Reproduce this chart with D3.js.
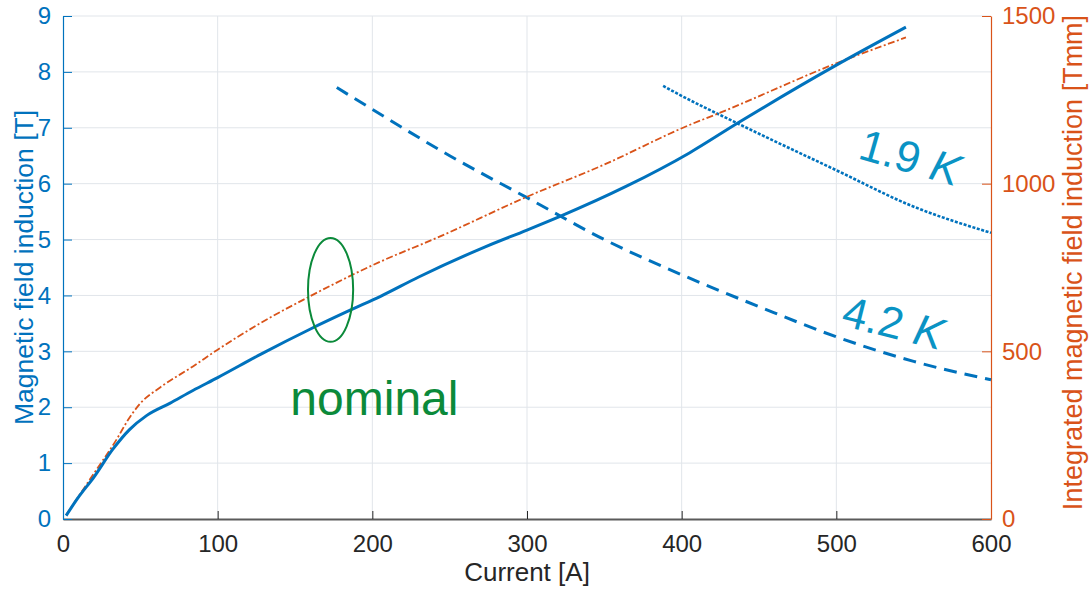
<!DOCTYPE html>
<html>
<head>
<meta charset="utf-8">
<script src="https://cdn.jsdelivr.net/npm/d3@7.9.0/dist/d3.min.js"></script>
<style>
  body { margin: 0; background: #fff; }
  svg { display: block; font-family: "Liberation Sans", Arial, Helvetica, sans-serif; }
</style>
</head>
<body>
<svg id="chart" width="1089" height="590"></svg>
<script>
// DATA
const nominalI = [2, 10, 20, 32, 43, 54, 69, 84, 100, 128, 160, 186, 205, 230, 273, 300, 321, 364, 405, 436, 500, 545];
const nominalB = [0.06, 0.39, 0.75, 1.24, 1.6, 1.85, 2.07, 2.3, 2.53, 2.95, 3.4, 3.74, 3.98, 4.33, 4.87, 5.17, 5.41, 5.95, 6.55, 7.08, 8.12, 8.8];

const integratedI = [2, 20, 35, 42, 50, 63, 84, 100, 128, 160, 205, 241, 300, 349, 405, 424, 500, 545];
const integratedT = [12, 136, 240, 295, 345, 393, 455, 505, 585, 665, 767, 837, 961, 1055, 1175, 1210, 1359, 1436];

const limit42I = [177, 200, 250, 300, 350, 400, 450, 500, 550, 600];
const limit42B = [7.72, 7.33, 6.5, 5.75, 5.0, 4.37, 3.8, 3.26, 2.82, 2.49];

const limit19I = [388, 398, 436, 500, 549, 600];
const limit19B = [7.75, 7.6, 7.08, 6.24, 5.6, 5.12];

const xTicks = [0, 100, 200, 300, 400, 500, 600];
const yLeftTicks = [0, 1, 2, 3, 4, 5, 6, 7, 8, 9];
const yRightTicks = [0, 500, 1000, 1500];

const blue = '#0072BD';
const orange = '#D95319';
const green = '#0b8a3a';
const labelBlue = '#0a93c4';

// SCALES
const svg = d3.select('#chart');

const x = d3.scaleLinear().domain([0, 600]).range([63, 991]);
const yL = d3.scaleLinear().domain([0, 9]).range([519, 16]);
const yR = d3.scaleLinear().domain([0, 1500]).range([519, 16]);

// GRID
const grid = svg.append('g').attr('stroke', '#e1e5ea').attr('stroke-width', 1);
grid.selectAll('.gx').data(xTicks.slice(1, -1)).join('line')
  .attr('x1', d => x(d)).attr('x2', d => x(d))
  .attr('y1', yL(0)).attr('y2', yL(9));
grid.selectAll('.gy').data(yLeftTicks.slice(1)).join('line')
  .attr('x1', x(0)).attr('x2', x(600))
  .attr('y1', d => yL(d)).attr('y2', d => yL(d));

// AXES
const fontTick = '24px';

const gx = svg.append('g')
  .attr('transform', `translate(0,${yL(0)})`)
  .call(d3.axisBottom(x).tickValues(xTicks).tickSizeInner(-8).tickSizeOuter(0).tickPadding(16));
gx.select('.domain').attr('stroke', '#5a5a5a').attr('stroke-width', 2);
gx.selectAll('.tick line').attr('stroke', '#262626');
gx.selectAll('.tick text').attr('fill', '#262626').style('font-size', fontTick);

const gl = svg.append('g')
  .attr('transform', `translate(${x(0)},0)`)
  .call(d3.axisLeft(yL).tickValues(yLeftTicks).tickSizeInner(-9).tickSizeOuter(0).tickPadding(12));
gl.select('.domain').attr('stroke', blue).attr('stroke-width', 1.2);
gl.selectAll('.tick line').attr('stroke', blue);
gl.selectAll('.tick text').attr('fill', blue).style('font-size', fontTick);

const gr = svg.append('g')
  .attr('transform', `translate(${x(600)},0)`)
  .call(d3.axisRight(yR).tickValues(yRightTicks).tickFormat(d3.format('d'))
    .tickSizeInner(-9).tickSizeOuter(0).tickPadding(11));
gr.select('.domain').attr('stroke', orange).attr('stroke-width', 1.2);
gr.selectAll('.tick line').attr('stroke', orange);
gr.selectAll('.tick text').attr('fill', orange).style('font-size', fontTick);

// AXIS TITLES
svg.append('text')
  .attr('x', x(300)).attr('y', 581)
  .attr('text-anchor', 'middle')
  .attr('fill', '#262626')
  .style('font-size', '26px')
  .text('Current [A]');

svg.append('text')
  .attr('transform', `translate(33,${(yL(0) + yL(9)) / 2}) rotate(-90)`)
  .attr('text-anchor', 'middle')
  .attr('fill', blue)
  .style('font-size', '26.5px')
  .text('Magnetic field induction [T]');

svg.append('text')
  .attr('transform', `translate(1082,${(yL(0) + yL(9)) / 2 - 5}) rotate(-90)`)
  .attr('text-anchor', 'middle')
  .attr('fill', orange)
  .style('font-size', '27px')
  .text('Integrated magnetic field induction [Tmm]');

// LINES
const lineL = d3.line().x(d => x(d[0])).y(d => yL(d[1])).curve(d3.curveMonotoneX);
const lineR = d3.line().x(d => x(d[0])).y(d => yR(d[1])).curve(d3.curveMonotoneX);

svg.append('path')
  .datum(d3.zip(limit42I, limit42B))
  .attr('d', lineL)
  .attr('fill', 'none')
  .attr('stroke', blue)
  .attr('stroke-width', 3)
  .attr('stroke-dasharray', '13,8');

svg.append('path')
  .datum(d3.zip(limit19I, limit19B))
  .attr('d', lineL)
  .attr('fill', 'none')
  .attr('stroke', blue)
  .attr('stroke-width', 2.6)
  .attr('stroke-dasharray', '3,1.6');

svg.append('path')
  .datum(d3.zip(integratedI, integratedT))
  .attr('d', lineR)
  .attr('fill', 'none')
  .attr('stroke', orange)
  .attr('stroke-width', 1.8)
  .attr('stroke-dasharray', '7,2.5,2,2.5');

svg.append('path')
  .datum(d3.zip(nominalI, nominalB))
  .attr('d', lineL)
  .attr('fill', 'none')
  .attr('stroke', blue)
  .attr('stroke-width', 3);

// ANNOTATIONS
svg.append('ellipse')
  .attr('cx', x(173)).attr('cy', yL(4.1))
  .attr('rx', x(14.6) - x(0)).attr('ry', yL(0) - yL(0.93))
  .attr('fill', 'none')
  .attr('stroke', green)
  .attr('stroke-width', 2);

svg.append('text')
  .attr('x', x(147)).attr('y', yL(1.86))
  .attr('fill', green)
  .style('font-size', '48px')
  .text('nominal');

function tempLabel(i, b, angle, num) {
  const t = svg.append('text')
    .attr('transform', `translate(${x(i)},${yL(b)}) rotate(${angle})`)
    .attr('text-anchor', 'middle')
    .attr('dy', '0.36em')
    .attr('fill', labelBlue)
    .style('font-size', '44px');
  t.append('tspan').text(num + ' ');
  t.append('tspan').style('font-style', 'italic').text('K');
}

tempLabel(548, 6.48, 16, '1.9');
tempLabel(537, 3.52, 14, '4.2');
</script>
</body>
</html>
